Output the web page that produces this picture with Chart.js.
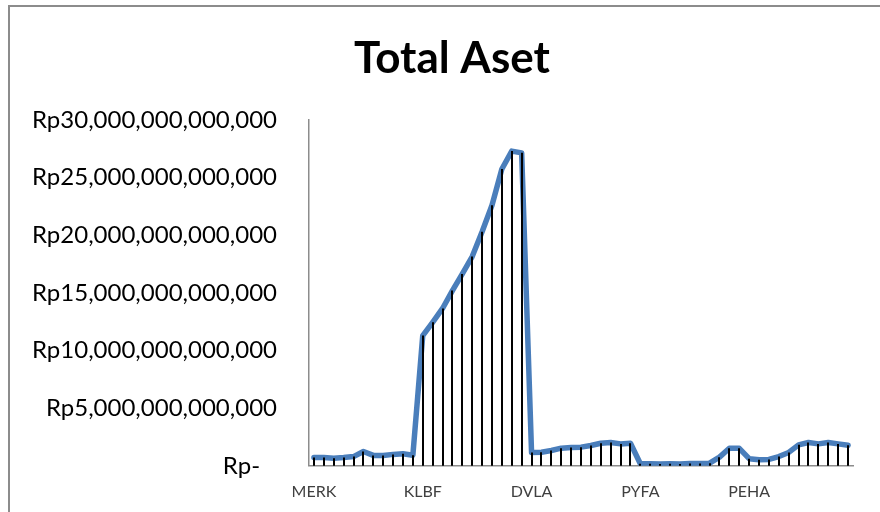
<!DOCTYPE html>
<html>
<head>
<meta charset="utf-8">
<script src="https://cdn.jsdelivr.net/npm/chart.js@4"></script>
<style>
  html, body { margin: 0; padding: 0; background: #fff; overflow: hidden; }
  #wrap { position: relative; width: 880px; height: 512px; overflow: hidden; }
  #frame { position: absolute; left: 8px; top: 5px; width: 960px; height: 600px;
           border: 2px solid #8c8c8c; box-sizing: border-box; }
  #holder { position: absolute; left: 0; top: 0; width: 904px; height: 528px; }
</style>
</head>
<body>
<div id="wrap">
  <div id="frame"></div>
  <div id="holder"><canvas id="c" width="904" height="528"></canvas></div>
</div>
<script>
// Total assets per company, trillion Rupiah, one value per reporting year
const companies = ['MERK', 'KLBF', 'DVLA', 'PYFA', 'PEHA'];
const merk = [0.72, 0.72, 0.66, 0.72, 0.80, 1.24, 0.90, 0.90, 0.99, 1.04, 0.92];
const klbf = [11.30, 12.45, 13.65, 15.20, 16.65, 18.15, 20.30, 22.60, 25.75, 27.30, 27.15];
const dvla = [1.16, 1.18, 1.33, 1.53, 1.59, 1.62, 1.76, 1.96, 2.02, 1.90, 1.96];
const pyfa = [0.18, 0.17, 0.16, 0.17, 0.16, 0.19, 0.19, 0.23, 0.75, 1.52, 1.52];
const peha = [0.62, 0.52, 0.55, 0.80, 1.16, 1.82, 2.02, 1.90, 2.02, 1.90, 1.78];
const yTicksTrillion = [0, 5, 10, 15, 20, 25, 30];
const chartTitle = 'Total Aset';

const series = [merk, klbf, dvla, pyfa, peha];
const labels = [];
const values = [];
series.forEach((arr, k) => arr.forEach(v => { labels.push(companies[k]); values.push(v); }));
const groupSize = merk.length;

// accounting-style Rupiah label; zero shows as a dash
function rupiah(t) {
  if (t === 0) return 'Rp-\u2007\u2009';
  return 'Rp' + (t * 1e12).toLocaleString('en-US');
}

// vertical drop lines from every point down to the category axis
const dropLines = {
  id: 'dropLines',
  afterDatasetsDraw(chart) {
    const meta = chart.getDatasetMeta(0);
    const y0 = chart.scales.y.getPixelForValue(0);
    const ctx = chart.ctx;
    ctx.save();
    ctx.strokeStyle = '#000';
    ctx.lineWidth = 2;
    ctx.beginPath();
    meta.data.forEach(pt => {
      const x = Math.round(pt.x);
      ctx.moveTo(x, pt.y);
      ctx.lineTo(x, y0);
    });
    ctx.stroke();
    ctx.restore();
  }
};

// chart title centred over the whole chart object rather than the plot box
const centeredTitle = {
  id: 'centeredTitle',
  afterDraw(chart, args, opts) {
    const ctx = chart.ctx;
    ctx.save();
    ctx.fillStyle = opts.color;
    ctx.font = opts.font;
    ctx.textAlign = 'center';
    ctx.textBaseline = 'middle';
    ctx.fillText(opts.text, opts.x, opts.y);
    ctx.restore();
  }
};

new Chart(document.getElementById('c'), {
  type: 'line',
  data: {
    labels: labels,
    datasets: [{
      data: values,
      borderColor: '#4a7ebb',
      borderWidth: 5.5,
      pointRadius: 0,
      tension: 0,
      borderJoinStyle: 'round',
      borderCapStyle: 'round',
      fill: false
    }]
  },
  options: {
    responsive: false,
    animation: false,
    layout: { padding: { left: 0, right: 51, top: 120, bottom: 11 } },
    plugins: {
      legend: { display: false },
      tooltip: { enabled: false },
      title: { display: false },
      centeredTitle: {
        text: chartTitle,
        color: '#000',
        font: 'bold 44px Lato',
        x: 452,
        y: 58.4
      }
    },
    scales: {
      x: {
        type: 'category',
        offset: true,
        grid: { display: false, drawTicks: false },
        border: { display: true, color: '#8c8c8c', width: 1.5 },
        ticks: {
          autoSkip: false,
          maxRotation: 0,
          padding: 16,
          color: '#404040',
          font: { family: 'Lato', size: 16 },
          callback: (v, i) => (i % groupSize === 0 ? labels[i] : '')
        }
      },
      y: {
        min: 0,
        max: 30,
        afterBuildTicks: s => { s.ticks = yTicksTrillion.map(v => ({ value: v })); },
        afterFit: s => { s.width = 309; },
        grid: { display: false, drawTicks: false },
        border: { display: true, color: '#8c8c8c', width: 1.5 },
        ticks: {
          padding: 32,
          color: '#000',
          font: { family: 'Lato', size: 24 },
          callback: v => rupiah(v)
        }
      }
    }
  },
  plugins: [dropLines, centeredTitle]
});
</script>
</body>
</html>
